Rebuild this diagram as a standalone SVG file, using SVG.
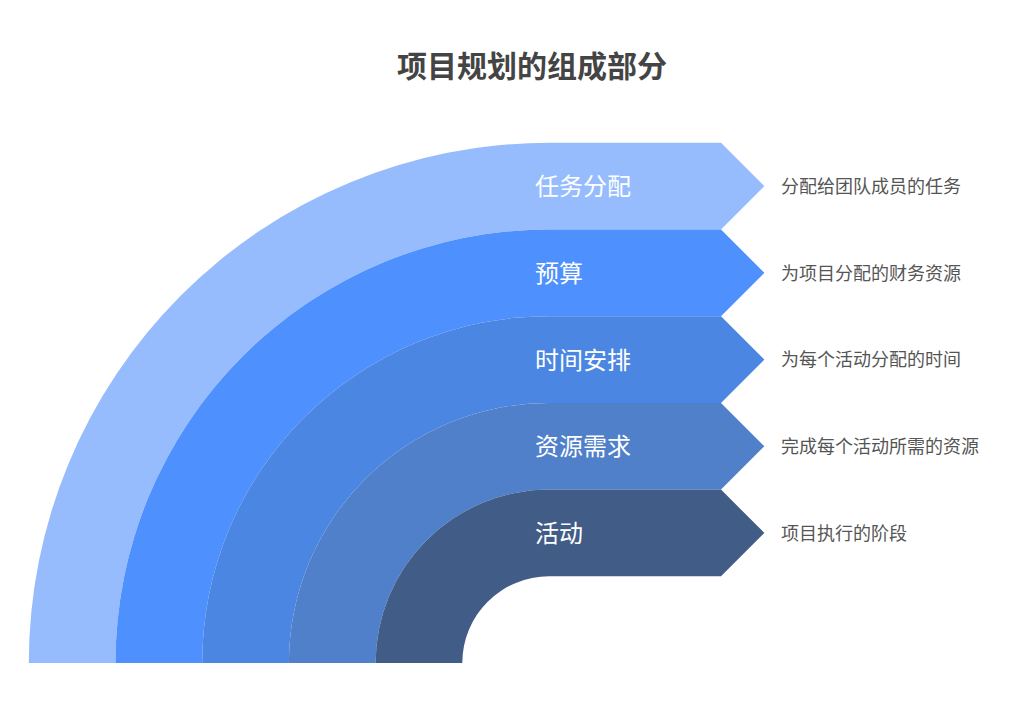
<svg xmlns="http://www.w3.org/2000/svg" width="1024" height="721" viewBox="0 0 1024 721">
<style>
.lbl{font-family:"Noto Sans CJK SC","Noto Sans",sans-serif;font-size:24px;fill:#ffffff}
.desc{font-family:"Noto Sans CJK SC","Noto Sans",sans-serif;font-size:18px;fill:#555555}
.title{font-family:"Noto Sans CJK SC","Noto Sans",sans-serif;font-size:30px;font-weight:bold;fill:#444444}
</style>
<rect width="1024" height="721" fill="#ffffff"/>
<text class="title" x="397" y="77">项目规划的组成部分</text>
<g id="n1">
<path fill="#96BCFE" d="M 28.8,663 A 520.2 520.2 0 0 1 549,142.8 L 721,142.8 L 764.35,186.15 L 721,229.5 L 549,229.5 A 433.5 433.5 0 0 0 115.5,663 Z"/>
<text class="lbl" x="535" y="195.3">任务分配</text>
<text class="desc" x="781" y="193">分配给团队成员的任务</text>
</g>
<g id="n2">
<path fill="#4D90FE" d="M 115.5,663 A 433.5 433.5 0 0 1 549,229.5 L 721,229.5 L 764.35,272.85 L 721,316.2 L 549,316.2 A 346.8 346.8 0 0 0 202.2,663 Z"/>
<text class="lbl" x="535" y="282">预算</text>
<text class="desc" x="781" y="279.7">为项目分配的财务资源</text>
</g>
<g id="n3">
<path fill="#4B87E2" d="M 202.2,663 A 346.8 346.8 0 0 1 549,316.2 L 721,316.2 L 764.35,359.55 L 721,402.9 L 549,402.9 A 260.1 260.1 0 0 0 288.9,663 Z"/>
<text class="lbl" x="535" y="368.7">时间安排</text>
<text class="desc" x="781" y="366.4">为每个活动分配的时间</text>
</g>
<g id="n4">
<path fill="#4F80C9" d="M 288.9,663 A 260.1 260.1 0 0 1 549,402.9 L 721,402.9 L 764.35,446.25 L 721,489.6 L 549,489.6 A 173.4 173.4 0 0 0 375.6,663 Z"/>
<text class="lbl" x="535" y="455.4">资源需求</text>
<text class="desc" x="781" y="453.1">完成每个活动所需的资源</text>
</g>
<g id="n5">
<path fill="#405C87" d="M 375.6,663 A 173.4 173.4 0 0 1 549,489.6 L 721,489.6 L 764.35,532.95 L 721,576.3 L 549,576.3 A 86.7 86.7 0 0 0 462.3,663 Z"/>
<text class="lbl" x="535" y="542.1">活动</text>
<text class="desc" x="781" y="539.8">项目执行的阶段</text>
</g>
</svg>
